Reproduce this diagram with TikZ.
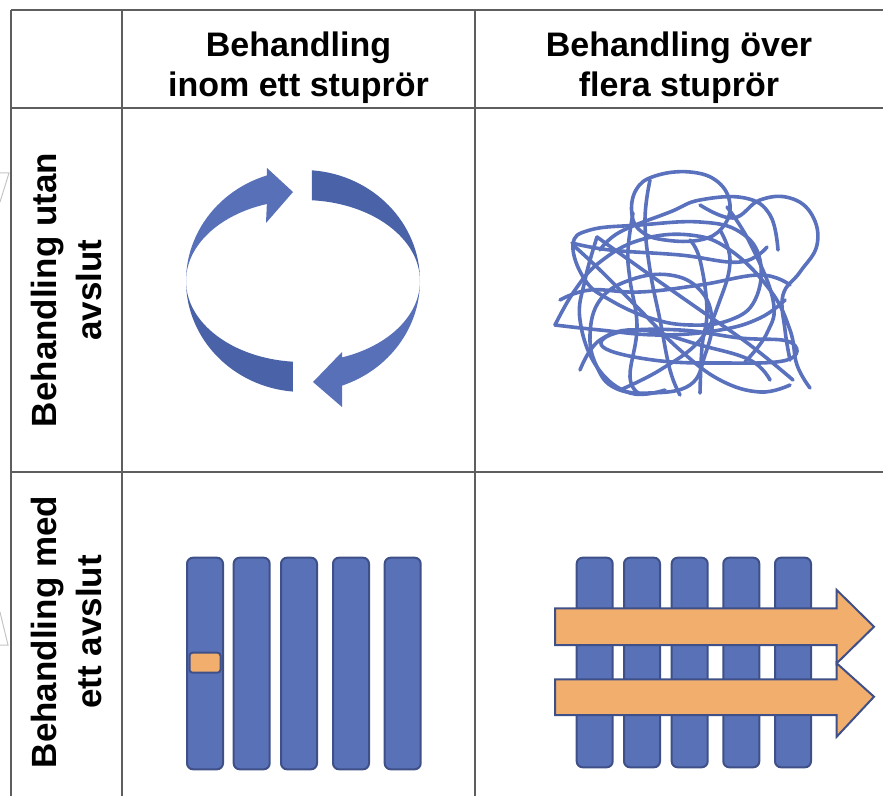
\documentclass[tikz,border=0pt]{standalone}
\usepackage{fontspec}
\setmainfont{Liberation Sans}
\definecolor{gridgray}{HTML}{5E5E5E}
\definecolor{ghost}{HTML}{C4C4C4}
\definecolor{ringdark}{HTML}{4A63A8}
\definecolor{ringlight}{HTML}{5770B8}
\definecolor{tangle}{HTML}{5A71BD}
\definecolor{barfill}{HTML}{5871B7}
\definecolor{barline}{HTML}{3F5089}
\definecolor{tagfill}{HTML}{F1AE6C}
\begin{document}
\begin{tikzpicture}[x=1pt,y=1pt,
  gridline/.style={draw=gridgray,line width=2.2pt},
  hdr/.style={font=\fontsize{34}{40}\selectfont\bfseries,align=center,inner sep=0pt},
  rowhdr/.style={font=\fontsize{35}{45}\selectfont\bfseries,align=center,inner sep=0pt,rotate=90},
  pipe/.style={draw=barline,fill=barfill,line width=2pt,rounded corners=6pt,
    minimum width=36pt,inner sep=0pt},
  tag/.style={draw=barline,fill=tagfill,line width=2pt,rounded corners=3pt,
    minimum width=31pt,minimum height=20pt,inner sep=0pt},
  flow/.style={draw=barline,fill=tagfill,line width=2pt,line join=miter},
  thread/.style={draw=tangle,line width=3.6pt,line cap=round,line join=round},
]
\useasboundingbox (0,0) rectangle (883,796);

% faint shapes peeking in at the left edge
\draw[ghost,line width=1pt] (0,623) -- (9,623) -- (0,594);
\draw[ghost,line width=1pt] (0,184) -- (8,151) -- (0,151);

% table rules
\draw[gridline] (11,786) -- (883,786);
\draw[gridline] (11,688) -- (883,688);
\draw[gridline] (11,324) -- (883,324);
\draw[gridline] (11,786) -- (11,0);
\draw[gridline] (122,786) -- (122,0);
\draw[gridline] (475,786) -- (475,0);

% headers
\node[hdr] (h1) at (298.5,728.5) {Behandling\\inom ett stupr\"or};
\node[hdr] (h2) at (679,728.5) {Behandling \"over\\flera stupr\"or};
\node[rowhdr] (r1) at (66.5,506) {Behandling utan\\avslut};
\node[rowhdr] (r2) at (66.5,164) {Behandling med\\ett avslut};

% ring of two arrows
\fill[ringdark] (303,515) ++(265:117 and 111)
  arc[start angle=265,end angle=180,x radius=117,y radius=111]
  arc[start angle=180,end angle=265,x radius=117,y radius=81] -- cycle;
\fill[ringlight] (186,515)
  arc[start angle=180,end angle=108,x radius=117,y radius=111]
  -- (267,628) -- (293,604) -- (266,573) -- (266.85,592)
  arc[start angle=108,end angle=180,x radius=117,y radius=81] -- cycle;
\fill[ringdark] (303,515) ++(85.6:117 and 111)
  arc[start angle=85.6,end angle=0,x radius=117,y radius=111]
  arc[start angle=0,end angle=85.6,x radius=117,y radius=81] -- cycle;
\fill[ringlight] (420,515)
  arc[start angle=0,end angle=-70.5,x radius=117,y radius=111]
  -- (342,389) -- (313,414) -- (342,444) -- (342.06,438.6)
  arc[start angle=-70.5,end angle=0,x radius=117,y radius=81] -- cycle;

% tangled threads
\begin{scope}[shift={(0,796)},yscale=-1]
  \draw[thread] plot[smooth cycle,tension=0.7] coordinates {(632,215) (636,190) (655,176) (690,172) (718,182) (730,205) (722,228) (700,240) (665,240) (642,232)};
  \draw[thread] plot[smooth cycle,tension=0.7] coordinates {(573,245) (590,230) (640,225) (700,222) (740,232) (760,260) (755,300) (730,320) (690,325) (650,318) (610,300) (585,280)};
  \draw[thread] plot[smooth,tension=0.7] coordinates {(555,325) (575,290) (600,262) (640,240) (690,235) (730,250) (770,290) (790,330) (797,365) (810,388)};
  \draw[thread] plot[smooth,tension=0.7] coordinates {(555,325) (600,330) (660,335) (720,330) (760,318) (785,300)};
  \draw[thread] plot[smooth cycle,tension=0.7] coordinates {(597,367) (590,335) (600,300) (630,280) (670,275) (700,290) (712,320) (705,355) (690,385) (650,393) (615,388)};
  \draw[thread] plot[smooth,tension=0.7] coordinates {(700,205) (733,218) (760,200) (790,198) (812,215) (817,245) (800,272) (783,295) (785,330) (790,360)};
  \draw[thread] plot[smooth,tension=0.7] coordinates {(573,245) (600,270) (640,310) (680,350) (720,380) (760,392) (790,385)};
  \draw[thread] plot[smooth,tension=0.7] coordinates {(600,250) (620,232) (670,212) (700,200) (745,198) (770,215) (778,250)};
  \draw[thread] plot[smooth,tension=0.7] coordinates {(620,390) (660,370) (700,340) (720,300) (730,260) (720,230)};
  \draw[thread] plot[smooth,tension=0.7] coordinates {(580,370) (600,340) (640,330) (700,345) (750,360) (770,380)};
  \draw[thread] plot[smooth,tension=0.7] coordinates {(650,180) (645,220) (650,270) (660,320) (670,370) (680,395)};
  \draw[thread] plot[smooth,tension=0.7] coordinates {(597,237) (585,280) (580,320) (597,367) (630,393) (665,390)};
  \draw[thread] plot[smooth,tension=0.7] coordinates {(633,213) (628,250) (630,280) (637,327) (630,377) (640,394)};
  \draw[thread] plot[smooth,tension=0.7] coordinates {(690,240) (700,260) (707,310) (702,347) (700,393)};
  \draw[thread] plot[smooth,tension=0.7] coordinates {(597,237) (650,275) (700,310) (750,345) (793,380)};
  \draw[thread] plot[smooth,tension=0.7] coordinates {(727,207) (750,243) (773,300) (767,333) (745,362)};
  \draw[thread] plot[smooth cycle,tension=0.7] coordinates {(603,347) (653,360) (720,363) (787,360) (790,342) (740,338) (680,330) (620,332)};
  \draw[thread] plot[smooth,tension=0.7] coordinates {(572,243) (610,250) (680,255) (740,262) (767,247)};
  \draw[thread] plot[smooth,tension=0.7] coordinates {(560,300) (590,290) (640,292) (700,285) (760,275) (790,285)};
\end{scope}

% pipes, one with a single case inside
\node[pipe,minimum height=211.6pt] (a1) at (205,132.5) {};
\node[pipe,minimum height=211.6pt] (a2) at (251.7,132.5) {};
\node[pipe,minimum height=211.6pt] (a3) at (299,132.5) {};
\node[pipe,minimum height=211.6pt] (a4) at (351,132.5) {};
\node[pipe,minimum height=211.6pt] (a5) at (402.7,132.5) {};
\node[tag] (t1) at (205,133.3) {};

% pipes crossed by flows
\node[pipe,minimum height=209.6pt] (b1) at (594.7,133.5) {};
\node[pipe,minimum height=209.6pt] (b2) at (642,133.5) {};
\node[pipe,minimum height=209.6pt] (b3) at (689.7,133.5) {};
\node[pipe,minimum height=209.6pt] (b4) at (741.3,133.5) {};
\node[pipe,minimum height=209.6pt] (b5) at (793,133.5) {};
\draw[flow] (555,187.7) -- (836.7,187.7) -- (836.7,206) -- (874,169.3)
  -- (836.7,132.7) -- (836.7,151) -- (555,151) -- cycle;
\draw[flow] (555,116.7) -- (836.7,116.7) -- (836.7,132.7) -- (874,99.3)
  -- (836.7,59.3) -- (836.7,81) -- (555,81) -- cycle;
\end{tikzpicture}
\end{document}
